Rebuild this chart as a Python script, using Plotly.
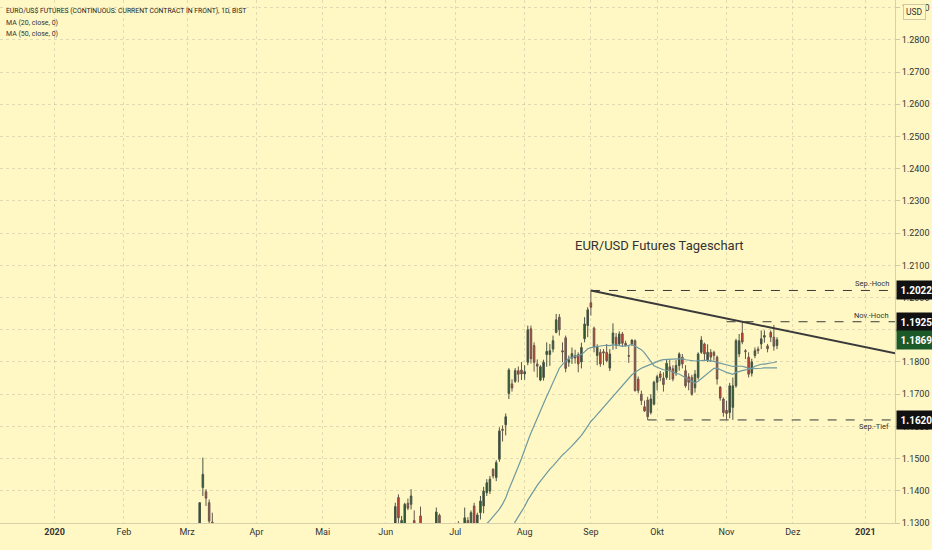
import numpy as np
import pandas as pd
import plotly.graph_objects as go

# days without a daily bar (weekends are cut separately)
HOLIDAYS = ["2019-12-25", "2020-01-01", "2020-04-10", "2020-05-25", "2020-07-03", "2020-09-07"]

FONT = "Roboto, Arial, sans-serif"
BG = "#fff8c5"
GRID = "rgba(170,165,140,0.35)"
TXT = "#333333"

# March spike, the only early bars that reach above 1.13
mar_dates = ["2020-03-06", "2020-03-09", "2020-03-10", "2020-03-11", "2020-03-12"]
mar_open = [1.1255, 1.1410, 1.1397, 1.1363, 1.1303]
mar_high = [1.1365, 1.1503, 1.1405, 1.1373, 1.1332]
mar_low = [1.1240, 1.1384, 1.1353, 1.1290, 1.1180]
mar_close = [1.1363, 1.1451, 1.1377, 1.1306, 1.1240]

# daily bars 1 May - 24 Nov 2020
opens = [
    # May
    1.0970, 1.0990, 1.0925, 1.0855, 1.0810, 1.0850, 1.0860, 1.0825, 1.0865, 1.0835,
    1.0820, 1.0835, 1.0935, 1.0940, 1.0995, 1.0965, 1.0920, 1.0995, 1.1020, 1.1095,
    # Jun
    1.1120, 1.1150, 1.1190, 1.1255, 1.1379, 1.1285, 1.1294, 1.1361, 1.1358, 1.1308,
    1.1260, 1.1322, 1.1275, 1.1250, 1.1215, 1.1200, 1.1280, 1.1324, 1.1275, 1.1250,
    1.1250, 1.1265,
    # Jul
    1.1265, 1.1280, 1.1270, 1.1285, 1.1308, 1.1290, 1.1353, 1.1292, 1.1332, 1.1353,
    1.1394, 1.1399, 1.1467, 1.1441, 1.1498, 1.1591, 1.1605, 1.1702, 1.1732, 1.1740,
    1.1773, 1.1775,
    # Aug
    1.1763, 1.1799, 1.1903, 1.1851, 1.1794, 1.1744, 1.1752, 1.1823, 1.1823, 1.1840,
    1.1892, 1.1939, 1.1835, 1.1875, 1.1799, 1.1812, 1.1820, 1.1823, 1.1800, 1.1872,
    1.1913,
    # Sep
    1.1984, 1.1905, 1.1820, 1.1830, 1.1832, 1.1830, 1.1781, 1.1858, 1.1877, 1.1856,
    1.1887, 1.1858, 1.1820, 1.1856, 1.1866, 1.1747, 1.1700, 1.1661, 1.1682, 1.1643,
    1.1669,
    # Oct
    1.1737, 1.1763, 1.1750, 1.1752, 1.1785, 1.1779, 1.1768, 1.1789, 1.1815, 1.1773,
    1.1754, 1.1752, 1.1720, 1.1752, 1.1830, 1.1856, 1.1804, 1.1830, 1.1830, 1.1815,
    1.1722, 1.1685,
    # Nov
    1.1650, 1.1643, 1.1659, 1.1726, 1.1825, 1.1890, 1.1835, 1.1815, 1.1765, 1.1820,
    1.1840, 1.1856, 1.1877, 1.1850, 1.1892, 1.1877, 1.1851,
]
highs = [
    1.1035, 1.0995, 1.0940, 1.0870, 1.0855, 1.0885, 1.0880, 1.0875, 1.0890, 1.0840,
    1.0845, 1.0945, 1.0990, 1.1000, 1.1010, 1.0975, 1.1010, 1.1030, 1.1100, 1.1155,
    1.1160, 1.1200, 1.1265, 1.1363, 1.1389, 1.1322, 1.1363, 1.1376, 1.1405, 1.1339,
    1.1295, 1.1351, 1.1290, 1.1265, 1.1280, 1.1295, 1.1348, 1.1329, 1.1285, 1.1280,
    1.1295, 1.1290,
    1.1295, 1.1306, 1.1298, 1.1348, 1.1318, 1.1339, 1.1363, 1.1332, 1.1384, 1.1412,
    1.1436, 1.1446, 1.1470, 1.1495, 1.1597, 1.1603, 1.1640, 1.1781, 1.1746, 1.1781,
    1.1786, 1.1800,
    1.1790, 1.1913, 1.1913, 1.1861, 1.1808, 1.1790, 1.1807, 1.1861, 1.1856, 1.1882,
    1.1949, 1.1949, 1.1861, 1.1882, 1.1820, 1.1845, 1.1838, 1.1830, 1.1860, 1.1939,
    1.1970,
    1.2022, 1.1910, 1.1855, 1.1840, 1.1840, 1.1856, 1.1840, 1.1920, 1.1890, 1.1895,
    1.1893, 1.1866, 1.1850, 1.1870, 1.1870, 1.1755, 1.1711, 1.1680, 1.1692, 1.1700,
    1.1742,
    1.1760, 1.1772, 1.1768, 1.1806, 1.1806, 1.1790, 1.1806, 1.1830, 1.1825, 1.1790,
    1.1765, 1.1760, 1.1775, 1.1830, 1.1880, 1.1860, 1.1855, 1.1840, 1.1835, 1.1820,
    1.1725, 1.1690,
    1.1680, 1.1735, 1.1752, 1.1872, 1.1887, 1.1925, 1.1840, 1.1830, 1.1810, 1.1845,
    1.1848, 1.1898, 1.1898, 1.1856, 1.1898, 1.1915, 1.1877,
]
lows = [
    1.0950, 1.0905, 1.0845, 1.0800, 1.0795, 1.0840, 1.0805, 1.0810, 1.0815, 1.0790,
    1.0790, 1.0830, 1.0910, 1.0925, 1.0950, 1.0890, 1.0905, 1.0950, 1.0985, 1.1080,
    1.1095, 1.1130, 1.1185, 1.1240, 1.1290, 1.1270, 1.1285, 1.1340, 1.1342, 1.1250,
    1.1195, 1.1260, 1.1230, 1.1195, 1.1175, 1.1195, 1.1270, 1.1260, 1.1205, 1.1220,
    1.1210, 1.1225,
    1.1205, 1.1245, 1.1255, 1.1270, 1.1280, 1.1280, 1.1285, 1.1280, 1.1311, 1.1330,
    1.1384, 1.1390, 1.1438, 1.1430, 1.1490, 1.1553, 1.1572, 1.1685, 1.1708, 1.1735,
    1.1737, 1.1744,
    1.1745, 1.1790, 1.1795, 1.1770, 1.1752, 1.1740, 1.1742, 1.1785, 1.1788, 1.1830,
    1.1889, 1.1882, 1.1799, 1.1768, 1.1785, 1.1794, 1.1795, 1.1768, 1.1780, 1.1861,
    1.1877,
    1.1944, 1.1830, 1.1790, 1.1785, 1.1790, 1.1799, 1.1772, 1.1838, 1.1840, 1.1850,
    1.1850, 1.1848, 1.1797, 1.1850, 1.1708, 1.1703, 1.1666, 1.1645, 1.1620, 1.1637,
    1.1665,
    1.1712, 1.1740, 1.1708, 1.1745, 1.1744, 1.1740, 1.1757, 1.1773, 1.1780, 1.1720,
    1.1712, 1.1695, 1.1705, 1.1745, 1.1825, 1.1805, 1.1800, 1.1800, 1.1805, 1.1730,
    1.1680, 1.1630,
    1.1622, 1.1625, 1.1620, 1.1720, 1.1815, 1.1855, 1.1809, 1.1752, 1.1755, 1.1812,
    1.1825, 1.1840, 1.1860, 1.1830, 1.1862, 1.1835, 1.1840,
]
closes = [
    1.1000, 1.0925, 1.0855, 1.0810, 1.0850, 1.0855, 1.0825, 1.0865, 1.0835, 1.0820,
    1.0835, 1.0935, 1.0940, 1.0995, 1.0965, 1.0920, 1.0995, 1.1020, 1.1095, 1.1120,
    1.1150, 1.1190, 1.1255, 1.1351, 1.1316, 1.1308, 1.1358, 1.1346, 1.1384, 1.1275,
    1.1285, 1.1275, 1.1250, 1.1215, 1.1200, 1.1285, 1.1334, 1.1275, 1.1250, 1.1250,
    1.1270, 1.1265,
    1.1280, 1.1270, 1.1285, 1.1316, 1.1296, 1.1332, 1.1296, 1.1325, 1.1368, 1.1399,
    1.1425, 1.1436, 1.1446, 1.1488, 1.1586, 1.1588, 1.1630, 1.1775, 1.1719, 1.1773,
    1.1762, 1.1763,
    1.1770, 1.1900, 1.1810, 1.1799, 1.1787, 1.1785, 1.1799, 1.1833, 1.1835, 1.1866,
    1.1931, 1.1900, 1.1831, 1.1780, 1.1807, 1.1826, 1.1812, 1.1794, 1.1845, 1.1918,
    1.1962,
    1.1970, 1.1846, 1.1846, 1.1794, 1.1828, 1.1804, 1.1825, 1.1890, 1.1851, 1.1887,
    1.1858, 1.1851, 1.1818, 1.1868, 1.1711, 1.1711, 1.1680, 1.1648, 1.1630, 1.1685,
    1.1737,
    1.1754, 1.1752, 1.1730, 1.1796, 1.1775, 1.1747, 1.1789, 1.1825, 1.1794, 1.1726,
    1.1737, 1.1700, 1.1762, 1.1825, 1.1868, 1.1825, 1.1830, 1.1815, 1.1820, 1.1747,
    1.1688, 1.1643,
    1.1640, 1.1726, 1.1726, 1.1866, 1.1866, 1.1862, 1.1832, 1.1762, 1.1800, 1.1835,
    1.1835, 1.1872, 1.1882, 1.1841, 1.1877, 1.1849, 1.1869,
]

month_ticks = ["2020-01-02", "2020-02-03", "2020-03-02", "2020-04-01", "2020-05-01", "2020-06-01",
               "2020-07-01", "2020-08-03", "2020-09-01", "2020-10-01", "2020-11-02", "2020-12-01",
               "2021-01-01"]
month_labels = ["<b>2020</b>", "Feb", "Mrz", "Apr", "Mai", "Jun", "Jul", "Aug", "Sep", "Okt",
                "Nov", "Dez", "<b>2021</b>"]

dates = pd.bdate_range("2020-05-01", "2020-11-24", freq="C", holidays=HOLIDAYS)
df = pd.DataFrame({"open": opens, "high": highs, "low": lows, "close": closes}, index=dates)
df["ma20"] = df["close"].rolling(20).mean()
df["ma50"] = df["close"].rolling(50).mean()

mar = pd.DataFrame({"open": mar_open, "high": mar_high, "low": mar_low, "close": mar_close},
                   index=pd.to_datetime(mar_dates))
bars = pd.concat([mar, df[["open", "high", "low", "close"]]])

X_END = "2021-01-15"


def bar_index(d):
    return np.busday_count("2020-01-02", np.datetime64(pd.Timestamp(d).date()), holidays=HOLIDAYS)


sep = df[df.index.month == 9]
nov = df[df.index.month == 11]
sep_hi_day, sep_hi = sep["high"].idxmax(), sep["high"].max()
sep_lo_day, sep_lo = sep["low"].idxmin(), sep["low"].min()
nov_hi_day, nov_hi = nov["high"].idxmax(), nov["high"].max()
last_close = df["close"].iloc[-1]

# trend line through the Sep high and the Nov high, extended to the right edge
i1, i2, i3 = bar_index(sep_hi_day), bar_index(nov_hi_day), bar_index(X_END)
trend_end = sep_hi + (nov_hi - sep_hi) * (i3 - i1) / (i2 - i1)

fig = go.Figure()

fig.add_trace(go.Candlestick(
    x=bars.index, open=bars["open"], high=bars["high"], low=bars["low"], close=bars["close"],
    increasing=dict(line=dict(color="#4a5546", width=1), fillcolor="#1b5a28"),
    decreasing=dict(line=dict(color="#66574d", width=1), fillcolor="#e8342e"),
    whiskerwidth=0, showlegend=False, hoverinfo="skip",
))

for col in ["ma20", "ma50"]:
    s = df[col].dropna()
    fig.add_trace(go.Scatter(x=s.index, y=s.values, mode="lines",
                             line=dict(color="#6e99a0", width=1.2),
                             showlegend=False, hoverinfo="skip"))

fig.add_trace(go.Scatter(x=[sep_hi_day, X_END], y=[sep_hi, trend_end], mode="lines",
                         line=dict(color="#3a3a3a", width=2), showlegend=False, hoverinfo="skip"))

for start, level in [(sep_hi_day, sep_hi), (pd.Timestamp("2020-11-02"), nov_hi), (sep_lo_day, sep_lo)]:
    fig.add_trace(go.Scatter(x=[start, X_END], y=[level, level], mode="lines",
                             line=dict(color="#3a3a3a", width=1, dash="dash"),
                             showlegend=False, hoverinfo="skip"))

annotations = [
    dict(text="EURO/US$ FUTURES (CONTINUOUS: CURRENT CONTRACT IN FRONT), 1D, BIST",
         x=0.004, y=0.990, font=dict(size=6.8, color="#222222")),
    dict(text="MA (20, close, 0)", x=0.004, y=0.967, font=dict(size=7, color="#333333")),
    dict(text="MA (50, close, 0)", x=0.004, y=0.946, font=dict(size=7, color="#333333")),
]
for a in annotations:
    a.update(xref="paper", yref="paper", xanchor="left", yanchor="top", showarrow=False)

annotations.append(dict(text="EUR/USD Futures Tageschart", xref="paper", yref="paper",
                        x=0.737, y=0.531, xanchor="center", yanchor="middle", showarrow=False,
                        font=dict(size=13, color=TXT)))

for text, level, anchor in [("Sep.-Hoch", sep_hi, "bottom"), ("Nov.-Hoch", nov_hi, "bottom"),
                            ("Sep.-Tief", sep_lo, "top")]:
    annotations.append(dict(text=text, xref="paper", yref="y", x=0.996, y=level,
                            xanchor="right", yanchor=anchor, showarrow=False,
                            font=dict(size=7.5, color=TXT)))

for level, color in [(sep_hi, "#111111"), (nov_hi, "#111111"), (last_close, "#1d5a2a"), (sep_lo, "#111111")]:
    annotations.append(dict(text=f"<b>{level:.4f}</b>", xref="paper", yref="y", x=1.0, y=level,
                            xanchor="left", yanchor="middle", xshift=1, showarrow=False,
                            bgcolor=color, borderpad=3.5, font=dict(size=10, color="white")))

annotations.append(dict(text="USD", xref="paper", yref="paper", x=1.0, y=1.0, xanchor="left",
                        yanchor="top", xshift=8, yshift=-4, showarrow=False, bgcolor=BG,
                        bordercolor="#cfcaa6", borderwidth=1, borderpad=2,
                        font=dict(size=8.5, color=TXT)))

fig.update_layout(
    width=932, height=550,
    margin=dict(l=0, r=37, t=0, b=27),
    paper_bgcolor=BG, plot_bgcolor=BG,
    font=dict(family=FONT, color=TXT),
    annotations=annotations,
    xaxis=dict(
        type="date", range=["2019-12-05 16:48", "2021-01-14 09:36"],
        rangebreaks=[dict(bounds=["sat", "mon"]), dict(values=HOLIDAYS)],
        tickvals=month_ticks, ticktext=month_labels,
        showgrid=True, gridcolor=GRID, griddash="dot", gridwidth=1,
        ticks="", tickfont=dict(size=9, color=TXT),
        showline=True, linecolor="#d6d1ad", linewidth=1,
        rangeslider=dict(visible=False), fixedrange=True,
    ),
    yaxis=dict(
        side="right", range=[1.1300, 1.2924], tick0=1.13, dtick=0.01, tickformat=".4f",
        showgrid=True, gridcolor=GRID, griddash="dot", gridwidth=1,
        ticks="outside", ticklen=4, tickcolor="#cfcaa6", tickfont=dict(size=9, color=TXT),
        showline=True, linecolor="#d6d1ad", linewidth=1,
        zeroline=False, fixedrange=True, automargin=False,
    ),
)

# the page's default body margin would push the figure 8px off
fig.write_html("out.html", config={"displayModeBar": False},
               post_script="document.body.style.margin='0';document.body.style.overflow='hidden';")
